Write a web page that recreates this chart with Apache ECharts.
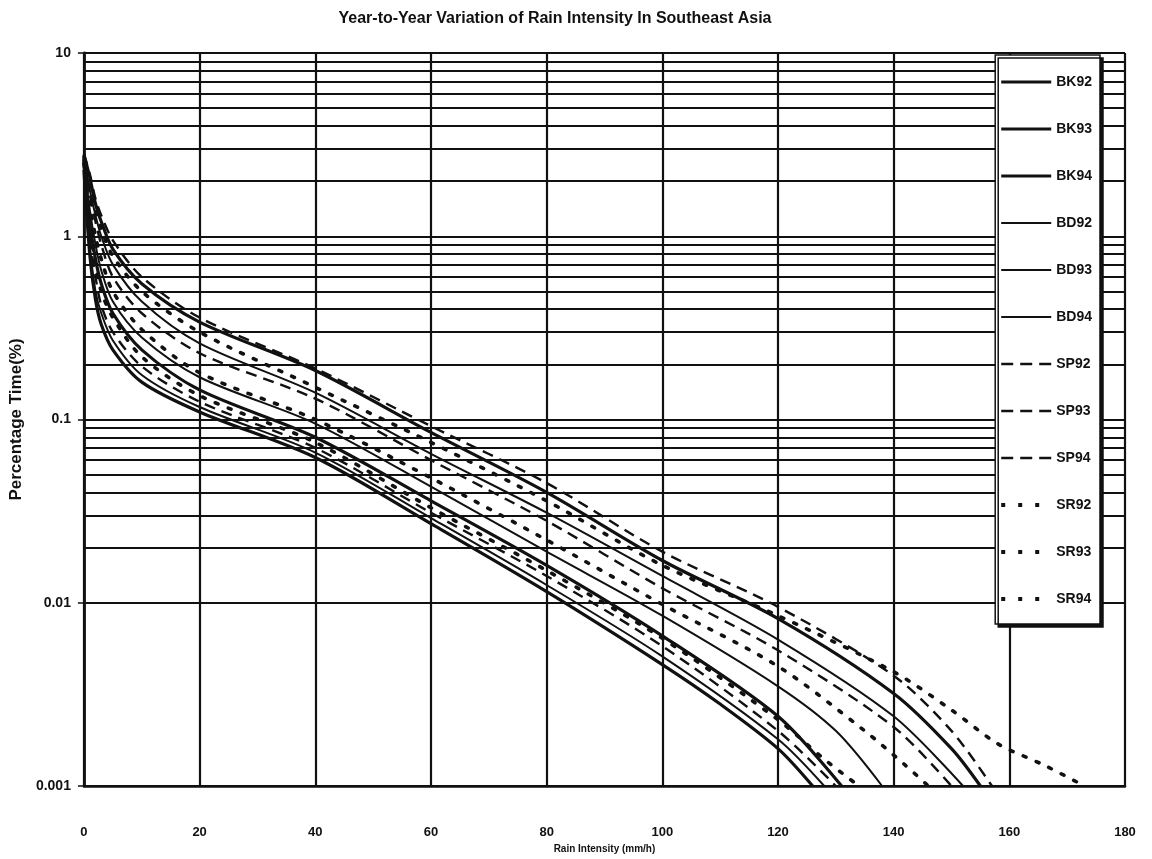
<!DOCTYPE html>
<html>
<head>
<meta charset="utf-8">
<script src="https://cdn.jsdelivr.net/npm/echarts@6/dist/echarts.min.js"></script>
<style>
  html, body { margin: 0; padding: 0; background: #ffffff; }
  #chart { width: 1152px; height: 859px; }
</style>
</head>
<body>
<div id="chart"></div>
<script>
// Exceedance curves: rain intensity (mm/h) vs percentage of time (%)
const BK92 = [[0,2.3],[1,0.8],[2,0.45],[3,0.33],[5,0.24],[10,0.16],[20,0.11],[40,0.062],[60,0.027],[80,0.0115],[100,0.0046],[110,0.0028],[120,0.0016],[126,0.001]];
const BK93 = [[0,2.5],[1,1.2],[2,0.75],[3,0.55],[5,0.38],[10,0.24],[20,0.145],[40,0.08],[60,0.036],[80,0.016],[100,0.0066],[120,0.0024],[131,0.001]];
const BK94 = [[0,2.8],[1,2.1],[2,1.5],[3,1.2],[5,0.85],[10,0.55],[20,0.34],[40,0.185],[60,0.085],[80,0.04],[100,0.017],[120,0.0082],[140,0.0032],[150,0.0016],[155,0.001]];
const BD92 = [[0,2.7],[1,1.8],[2,1.3],[3,1.0],[5,0.7],[10,0.44],[20,0.26],[40,0.14],[60,0.065],[80,0.031],[100,0.014],[120,0.0063],[140,0.0024],[152,0.001]];
const BD93 = [[0,2.4],[1,0.9],[2,0.5],[3,0.38],[5,0.27],[10,0.175],[20,0.117],[40,0.066],[60,0.029],[80,0.0125],[100,0.0051],[120,0.0018],[128,0.001]];
const BD94 = [[0,2.5],[1,1.4],[2,0.9],[3,0.65],[5,0.44],[10,0.28],[20,0.17],[40,0.095],[60,0.043],[80,0.019],[100,0.0085],[120,0.0035],[130,0.002],[138,0.001]];
const SP92 = [[0,2.8],[1,2.2],[2,1.6],[3,1.3],[5,0.95],[10,0.6],[20,0.36],[40,0.19],[60,0.092],[80,0.045],[100,0.019],[120,0.0095],[140,0.004],[150,0.002],[157,0.001]];
const SP93 = [[0,2.6],[1,1.7],[2,1.2],[3,0.9],[5,0.6],[10,0.38],[20,0.23],[40,0.13],[60,0.06],[80,0.028],[100,0.012],[120,0.0055],[140,0.0021],[150,0.001]];
const SP94 = [[0,2.4],[1,1.0],[2,0.6],[3,0.42],[5,0.3],[10,0.195],[20,0.125],[40,0.07],[60,0.031],[80,0.014],[100,0.0058],[120,0.002],[130,0.001]];
const SR92 = [[0,2.5],[1,1.2],[2,0.7],[3,0.5],[5,0.36],[10,0.22],[20,0.135],[40,0.075],[60,0.033],[80,0.015],[100,0.0064],[120,0.0023],[128,0.0014],[134,0.001]];
const SR93 = [[0,2.7],[1,1.9],[2,1.4],[3,1.1],[5,0.78],[10,0.5],[20,0.3],[40,0.15],[60,0.075],[80,0.036],[100,0.016],[120,0.0085],[140,0.0042],[150,0.0026],[158,0.0017],[166,0.0013],[173,0.001]];
const SR94 = [[0,2.6],[1,1.5],[2,1.0],[3,0.75],[5,0.5],[10,0.31],[20,0.18],[40,0.1],[60,0.048],[80,0.022],[100,0.0098],[120,0.0045],[135,0.002],[142,0.0013],[146,0.001]];

const seriesNames = ['BK92','BK93','BK94','BD92','BD93','BD94','SP92','SP93','SP94','SR92','SR93','SR94'];
const seriesData  = [BK92, BK93, BK94, BD92, BD93, BD94, SP92, SP93, SP94, SR92, SR93, SR94];

const yTickLabels = ['0.001','0.01','0.1','1','10'];
const xTickLabels = ['0','20','40','60','80','100','120','140','160','180'];

// line look per station family
function styleFor(name) {
  const fam = name.slice(0, 2);
  if (fam === 'BK') return { color: '#111', width: 3.2, type: 'solid' };
  if (fam === 'BD') return { color: '#111', width: 2, type: 'solid' };
  if (fam === 'SP') return { color: '#111', width: 2.4, type: [11, 7] };
  return { color: '#111', width: 3.6, type: [3, 11], cap: 'round' };
}
function legendLineFor(name) {
  const fam = name.slice(0, 2);
  if (fam === 'BK') return { color: '#111', width: 3, type: 'solid' };
  if (fam === 'BD') return { color: '#111', width: 2, type: 'solid' };
  if (fam === 'SP') return { color: '#111', width: 2.5, type: [12, 7] };
  return { color: '#111', width: 4, type: [4, 13], cap: 'butt' };
}

// log-grid minor lines at 2..9 of each decade
const minorLines = [];
for (let d = -3; d <= 0; d++) {
  for (let m = 2; m <= 9; m++) minorLines.push({ yAxis: m * Math.pow(10, d) });
}

const series = seriesNames.map((n, i) => ({
  name: n,
  type: 'line',
  data: seriesData[i],
  symbol: 'none',
  smooth: 0.3,
  lineStyle: styleFor(n),
  itemStyle: { color: '#111' },
  z: 3
}));

series.push({
  name: 'grid',
  type: 'line',
  data: [],
  silent: true,
  z: 1,
  markLine: {
    silent: true,
    symbol: 'none',
    label: { show: false },
    animation: false,
    lineStyle: { color: '#111', width: 2.2, type: 'solid' },
    data: minorLines
  }
});

const fontFam = 'Liberation Sans, Arial, sans-serif';
const chart = echarts.init(document.getElementById('chart'), null, { renderer: 'canvas' });
chart.setOption({
  animation: false,
  backgroundColor: '#ffffff',
  title: {
    text: 'Year-to-Year Variation of Rain Intensity In Southeast Asia',
    left: 550, top: 6, textAlign: 'center',
    textStyle: { fontFamily: fontFam, fontSize: 16, fontWeight: 'bold', color: '#111' }
  },
  grid: { left: 82, right: 27, top: 53, bottom: 73 },
  legend: {
    z: 10,
    data: seriesNames.map(n => ({ name: n, lineStyle: legendLineFor(n), itemStyle: { opacity: 0, color: 'transparent', borderWidth: 0 } })),
    orient: 'vertical',
    right: 52, top: 55,
    itemWidth: 50, itemHeight: 14, itemGap: 33,
    padding: [20, 8, 18, 4],
    backgroundColor: '#ffffff',
    borderColor: '#111', borderWidth: 1.5,
    shadowColor: '#111', shadowOffsetX: 3, shadowOffsetY: 3, shadowBlur: 0,
    itemStyle: { opacity: 0, color: 'transparent', borderWidth: 0 },
    textStyle: { fontFamily: fontFam, fontSize: 14, fontWeight: 'bold', color: '#111' },
    selectedMode: false
  },
  xAxis: {
    type: 'value', min: 0, max: 180, interval: 20,
    name: 'Rain Intensity (mm/h)', nameLocation: 'middle', nameGap: 58,
    nameTextStyle: { fontFamily: fontFam, fontSize: 10, fontWeight: 'bold', color: '#111' },
    axisLine: { lineStyle: { color: '#111', width: 2.5 } },
    axisTick: { show: false },
    axisLabel: {
      margin: 40, color: '#111', fontSize: 13, fontWeight: 'bold', fontFamily: fontFam,
      formatter: v => xTickLabels[Math.round(v / 20)]
    },
    splitLine: { show: true, lineStyle: { color: '#111', width: 2.2 } }
  },
  yAxis: {
    type: 'log', logBase: 10, min: 0.001, max: 10,
    name: 'Percentage Time(%)', nameLocation: 'middle', nameGap: 58,
    nameTextStyle: { fontFamily: fontFam, fontSize: 17, fontWeight: 'bold', color: '#111' },
    axisLine: { show: true, lineStyle: { color: '#111', width: 2.8 } },
    axisTick: { show: true, length: 6, lineStyle: { color: '#111', width: 1.5 } },
    axisLabel: {
      margin: 13, color: '#111', fontSize: 14, fontWeight: 'bold', fontFamily: fontFam,
      formatter: v => yTickLabels[Math.round(Math.log10(v)) + 3]
    },
    splitLine: { show: true, lineStyle: { color: '#111', width: 2.2 } }
  },
  series: series
});
</script>
</body>
</html>
